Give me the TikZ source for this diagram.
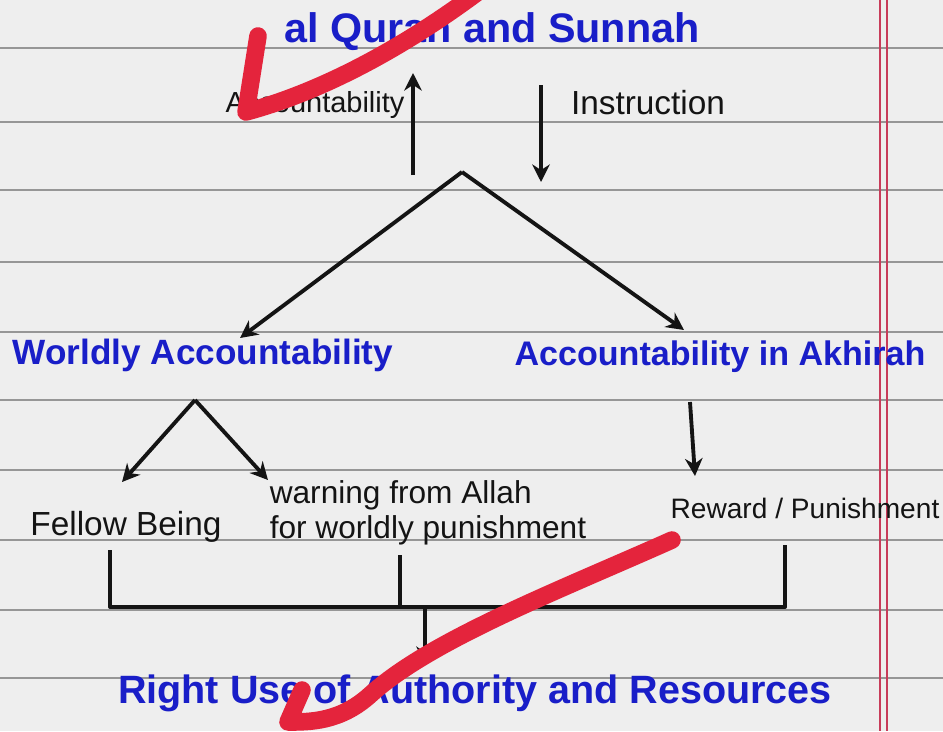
\documentclass[tikz,border=0pt]{standalone}
\usepackage{fontspec}
\setmainfont{Liberation Sans}
\usetikzlibrary{arrows.meta}
\definecolor{paper}{RGB}{238,238,238}
\definecolor{rule}{RGB}{150,150,150}
\definecolor{ink}{RGB}{20,20,20}
\definecolor{blueink}{RGB}{25,30,200}
\definecolor{marker}{RGB}{228,36,60}
\definecolor{margin}{RGB}{200,60,90}
\tikzset{
  bluetxt/.style={text=blueink, font=\bfseries\fontsize{20}{22}\selectfont, inner sep=0pt},
  blacktxt/.style={text=ink, font=\fontsize{17}{19}\selectfont, inner sep=0pt, align=left},
  arr/.style={draw=ink, line width=2.2pt, -{Stealth[length=10pt,width=10pt]}},
  plain/.style={draw=ink, line width=2.2pt, line join=round},
  redmark/.style={draw=marker, line width=10pt, line cap=round, line join=round},
}
\begin{document}
\begin{tikzpicture}[x=0.02cm,y=-0.02cm]
\useasboundingbox (0,0) rectangle (943,731);
\fill[paper] (0,0) rectangle (943,731);
\foreach \yy in {48,122,190,262,332,400,470,540,610,678}
  \draw[rule, line width=0.8pt] (0,\yy) -- (943,\yy);
\draw[margin, line width=0.8pt] (880,0) -- (880,731);
\draw[margin, line width=0.8pt] (887,0) -- (887,731);

% texts
\node[bluetxt, font=\bfseries\fontsize{23.5}{25}\selectfont] (quran) at (492,32) {al Quran and Sunnah};
\node[blacktxt, font=\fontsize{16.5}{18}\selectfont] (acc) at (315,105) {Accountability};
\node[blacktxt, font=\fontsize{19}{21}\selectfont] (instr) at (648,103) {Instruction};
\node[bluetxt, font=\bfseries\fontsize{20}{22}\selectfont] (worldly) at (203,355) {Worldly Accountability};
\node[bluetxt, font=\bfseries\fontsize{19.4}{21}\selectfont] (akhirah) at (720,357) {Accountability in Akhirah};
\node[blacktxt, font=\fontsize{19}{21}\selectfont] (fellow) at (126,527) {Fellow Being};
\node[blacktxt, font=\fontsize{18}{20}\selectfont] (warning) at (428,513) {warning from Allah\\for worldly punishment};
\node[blacktxt, font=\fontsize{16}{18}\selectfont] (reward) at (805,508) {Reward / Punishment};
\node[bluetxt, font=\bfseries\fontsize{22.5}{24}\selectfont] (right) at (475,693) {Right Use of Authority and Resources};

% coordinates
\coordinate (upS) at (413,175);
\coordinate (upE) at (413,73);
\coordinate (dnS) at (541,85);
\coordinate (dnE) at (541,182);
\coordinate (apex) at (462,172);
\coordinate (wTip) at (240,338);
\coordinate (aTip) at (684,330);
\coordinate (apex2) at (195,400);
\coordinate (fTip) at (122,482);
\coordinate (gTip) at (268,480);
\coordinate (rS) at (690,402);
\coordinate (rTip) at (695,476);
\coordinate (b1) at (110,550);
\coordinate (b2) at (400,555);
\coordinate (b3) at (785,545);
\coordinate (bl) at (110,607);
\coordinate (bm) at (400,607);
\coordinate (br) at (785,607);
\coordinate (cS) at (425,607);
\coordinate (cE) at (425,664);

\draw[arr] (upS) -- (upE);
\draw[arr] (dnS) -- (dnE);
\draw[arr] (apex) -- (wTip);
\draw[arr] (apex) -- (aTip);
\draw[arr] (apex2) -- (fTip);
\draw[arr] (apex2) -- (gTip);
\draw[arr] (rS) -- (rTip);
\draw[plain] (b1) -- (bl) -- (br) -- (b3);
\draw[plain] (b2) -- (bm);
\draw[arr] (cS) -- (cE);

% red marker strokes
\draw[redmark] (258,36) -- (246,112) .. controls (320,92) and (400,50) .. (478,-8);
\draw[redmark] (672,540) .. controls (560,590) and (430,640) .. (370,695)
  .. controls (340,722) and (310,722) .. (288,722) -- (302,690);
\end{tikzpicture}
\end{document}
